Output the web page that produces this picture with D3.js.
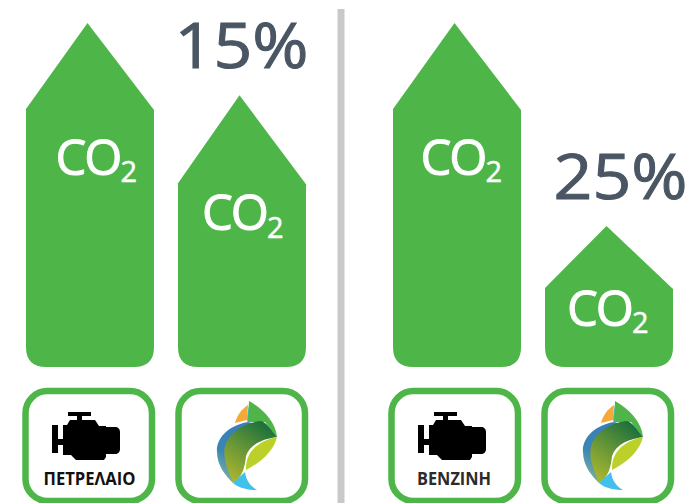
<!DOCTYPE html>
<html><head><meta charset="utf-8">
<script src="https://cdn.jsdelivr.net/npm/d3@7"></script>
<style>html,body{margin:0;padding:0;background:#fff}svg{display:block}text{font-family:"Open Sans",sans-serif}</style>
</head><body><div id="c"></div>
<script>
const categories = ["diesel","diesel-gas","petrol","petrol-gas"];
const values = [100, 79, 100, 41];
const shoulderDrop = [86, 88, 86, 62];
const fuelLabels = ["ΠΕΤΡΕΛΑΙΟ", "", "BENZINH", ""];
const percentLabels = ["", "15%", "", "25%"];
const GREEN = "#4eb648", SLATE = "#4a5663";

const svg = d3.select("#c").append("svg").attr("width",690).attr("height",503);
const x = d3.scaleOrdinal().domain(categories).range([26,178,393,545]);
const bw = 128;
const y = d3.scaleLinear().domain([0,100]).range([367,23]);

svg.append("rect").attr("x",337.5).attr("y",9).attr("width",7).attr("height",494).attr("fill","#c9c9c9");

const arrow = (c,i)=>{
  const l=x(c), r=l+bw, t=y(values[i]), s=t+shoulderDrop[i], b=y(0), q=20, p=d3.path();
  p.moveTo(l+bw/2-2.5,t); p.lineTo(r,s+1); p.lineTo(r,b-q);
  p.quadraticCurveTo(r,b,r-q,b); p.lineTo(l+q,b);
  p.quadraticCurveTo(l,b,l,b-q); p.lineTo(l,s); p.closePath();
  return p.toString();
};
svg.selectAll("path.bar").data(categories).join("path").attr("class","bar").attr("d",arrow).attr("fill",GREEN);

// CO2 labels: one text per bar, subscript as a tspan
const coX=[55.5,202,420.5,567], coDy=[151.5,135,151.5,100];
const co2 = svg.selectAll("text.co2").data(categories).join("text").attr("class","co2")
  .attr("x",(c,i)=>coX[i]).attr("y",(c,i)=>y(values[i])+coDy[i])
  .attr("fill","#fff").attr("stroke","#fff").attr("stroke-width",1);
co2.append("tspan").attr("font-size",49).attr("letter-spacing",-2).text("CO");
co2.append("tspan").attr("dy",7.5).attr("font-size",29).attr("stroke-width",0.5).text("2");

// percent labels
const pctX=[0,241.5,0,620.5];
svg.selectAll("text.pct").data(categories).join("text").attr("class","pct")
  .attr("x",(c,i)=>pctX[i]).attr("y",(c,i)=>y(values[i])-27)
  .attr("text-anchor","middle").attr("font-size",63).attr("fill",SLATE)
  .attr("stroke",SLATE).attr("stroke-width",1)
  .each(function(c,i){ if(percentLabels[i]) d3.select(this).attr("textLength",134).attr("lengthAdjust","spacingAndGlyphs"); })
  .text((c,i)=>percentLabels[i]);

// icon boxes
const boxX=[25.5,178.5,391.5,544.5];
const box = svg.selectAll("g.box").data(categories).join("g").attr("class","box")
  .attr("transform",(c,i)=>`translate(${boxX[i]},0)`);
box.append("rect").attr("x",0).attr("y",391).attr("width",126.5).attr("height",110)
  .attr("rx",22).attr("fill","#fff").attr("stroke",GREEN).attr("stroke-width",6.5);

// engine icon (local coords, top-left at icon origin)
const engine="M16 0H39V4H30V8H43L47 14H54V15H63C66 15 68 17 68 20V37C68 40 66 42 63 42H54V45L52 48H24L19 43H11V33H6V41H0V13H6V27H11V13H15L18 8H25V4H16Z";
box.filter((c,i)=>i%2===0).append("path").attr("d",engine).attr("fill","#000")
  .attr("transform",`translate(26.5,412)`);
box.filter((c,i)=>i%2===0).append("text")
  .attr("x",(c,i)=>i===0?64:62.5).attr("y",485).attr("text-anchor","middle").attr("font-size",18).attr("font-weight",700)
  .attr("font-family","Roboto, sans-serif").attr("textLength",(c,i)=>i===0?92:74).attr("lengthAdjust","spacingAndGlyphs")
  .attr("fill",(c,i)=>i===0?"#111":"#2b2b2b").text((c,i)=>fuelLabels[i*2]);

// flame logo
const defs=svg.append("defs");
const g1=defs.append("linearGradient").attr("id","blue").attr("x1",.7).attr("y1",0).attr("x2",.3).attr("y2",1);
g1.append("stop").attr("offset",0).attr("stop-color","#3a7cbc");
g1.append("stop").attr("offset",.6).attr("stop-color","#3a86b4");
g1.append("stop").attr("offset",1).attr("stop-color","#7fb0a0");
const g2=defs.append("linearGradient").attr("id","mid").attr("x1",.85).attr("y1",0).attr("x2",.25).attr("y2",1);
g2.append("stop").attr("offset",0).attr("stop-color","#0f6b3c");
g2.append("stop").attr("offset",.5).attr("stop-color","#5f9238");
g2.append("stop").attr("offset",1).attr("stop-color","#a9b52e");
const logo=box.filter((c,i)=>i%2===1).append("g").attr("transform","translate(-178.5,0)");
const shapes=[
 ["M235 423C237 415 242 409 248 405L247 420C243 421 239 422 235 423Z","#f5a93a"],
 ["M250 402C248 408 247 415 247 422L252 418Z","#3dbfe8"],
 ["M249 401C262 408 276 422 277 437L265 422L248 422Z","#4fb548"],
 ["M248 422C226 426 216 440 217 452C217 466 226 476 233 483L240 470C232 452 238 436 256 424Z","url(#blue)"],
 ["M260 421C266 421 272 431 277 437C263 439 250 444 246 456C245 466 243 477 233 483C228 470 221 456 226 443C232 431 245 423 260 421Z","url(#mid)"],
 ["M277 437C274 450 262 462 246 470C245 452 258 441 277 437Z","#bcd02a"],
 ["M233 483L245 472C246 480 250 486 257 490C250 490 240 489 233 483Z","#40c0ea"]
];
logo.selectAll("path").data(shapes).join("path").attr("d",d=>d[0]).attr("fill",d=>d[1]);
</script></body></html>
